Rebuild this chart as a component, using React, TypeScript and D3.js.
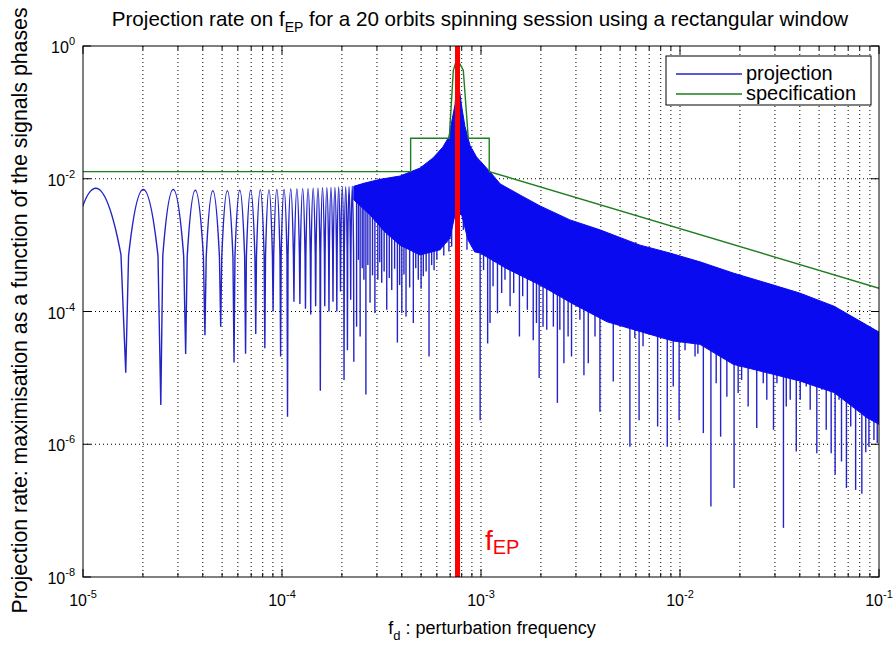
import React from "react";
import * as d3 from "d3";

const W = 896;
const H = 649;
const PL = 83, PR = 879, PT = 46, PB = 577;

const xDomain: [number, number] = [1e-5, 1e-1];
const yDomain: [number, number] = [1e-8, 1];
const xTickExps = [-5, -4, -3, -2, -1];
const yTickExps = [0, -2, -4, -6, -8];
const minorMult = [2, 3, 4, 5, 6, 7, 8, 9];

const fEP = 7.62e-4;

// specification (green)
const specF = [1e-5, 4.43e-4, 4.43e-4, 6.93e-4, 6.98e-4, 7.26e-4, 7.45e-4, 7.8e-4, 8.15e-4, 8.55e-4, 8.63e-4, 1.1e-3, 1.1e-3, 1e-1];
const specV = [0.0128, 0.0128, 0.0407, 0.0407, 0.06, 0.43, 0.55, 0.55, 0.43, 0.06, 0.0407, 0.0407, 0.0128, 2.24e-4];

// projection: resolved side lobes (nulls, null depths, lobe peaks)
const nullF = [8.2e-6, 1.64e-5, 2.46e-5, 3.28e-5, 4.1e-5, 4.92e-5, 5.74e-5, 6.56e-5, 7.38e-5, 8.2e-5, 9.02e-5, 9.84e-5, 1.066e-4, 1.148e-4, 1.23e-4, 1.312e-4, 1.394e-4, 1.476e-4, 1.558e-4, 1.64e-4, 1.722e-4, 1.804e-4, 1.886e-4, 1.968e-4, 2.05e-4, 2.132e-4, 2.214e-4, 2.296e-4];
const nullDepth = [1e-6, 1.2e-5, 3.9e-6, 2.3e-5, 4.4e-5, 5.9e-5, 1.7e-5, 2.3e-5, 4.6e-5, 2.8e-5, 1.0e-4, 2.1e-5, 2.6e-6, 1.4e-4, 1.3e-4, 1.1e-4, 9e-5, 1.2e-4, 6.4e-6, 1.2e-4, 1.0e-4, 1.4e-4, 1.0e-4, 2.0e-4, 9.3e-6, 2.6e-5, 1.5e-4, 1.75e-5];
const lobePeak = [7.2e-3, 6.9e-3, 6.9e-3, 6.7e-3, 6.6e-3, 6.6e-3, 6.7e-3, 6.7e-3, 6.8e-3, 6.8e-3, 6.9e-3, 6.9e-3, 7.0e-3, 7.0e-3, 7.1e-3, 7.1e-3, 7.2e-3, 7.2e-3, 7.3e-3, 7.3e-3, 7.4e-3, 7.4e-3, 7.5e-3, 7.5e-3, 7.6e-3, 7.6e-3, 7.7e-3];

// projection: dense band (upper envelope and lower edge of the solid area)
const bandTop: [number, number][] = [
  [2.296e-4, 7.7e-3], [2.6e-4, 8.6e-3], [3.11e-4, 9.8e-3], [3.92e-4, 1.1e-2], [4.94e-4, 1.45e-2],
  [5.74e-4, 2.06e-2], [6.43e-4, 3.0e-2], [6.9e-4, 4.3e-2], [7.2e-4, 8.5e-2], [7.4e-4, 0.129],
  [7.62e-4, 0.35], [8.0e-4, 0.122], [8.3e-4, 6.2e-2], [8.8e-4, 3.2e-2], [9.5e-4, 2.13e-2],
  [1.11e-3, 1.27e-2], [1.25e-3, 8.35e-3], [1.57e-3, 5.7e-3], [1.98e-3, 3.9e-3], [2.8e-3, 2.4e-3],
  [3.96e-3, 1.7e-3], [6.3e-3, 1.0e-3], [8.9e-3, 7.6e-4], [1.26e-2, 5.6e-4], [1.85e-2, 3.8e-4],
  [2.71e-2, 2.7e-4], [3.99e-2, 1.9e-4], [5.95e-2, 1.2e-4], [8.65e-2, 6.3e-5], [1e-1, 4.9e-5],
];
const bandBottom: [number, number][] = [
  [2.296e-4, 4.8e-3], [2.77e-4, 2.85e-3], [3.29e-4, 1.58e-3], [3.92e-4, 1.0e-3], [4.94e-4, 7.1e-4],
  [6.22e-4, 8.5e-4], [6.98e-4, 1.28e-3], [7.4e-4, 2.85e-3], [7.62e-4, 3.0e-3],
  [8.0e-4, 2.85e-3], [8.6e-4, 1.2e-3], [9.3e-4, 7.9e-4], [9.9e-4, 7.6e-4], [1.35e-3, 4.4e-4],
  [1.98e-3, 2.5e-4], [2.9e-3, 1.3e-4], [4.3e-3, 7.0e-5], [6.3e-3, 5.0e-5], [9.2e-3, 3.6e-5],
  [1.26e-2, 3.2e-5], [1.85e-2, 1.6e-5], [2.72e-2, 1.2e-5], [3.99e-2, 9.0e-6], [5.95e-2, 6.0e-6],
  [8.7e-2, 2.5e-6], [1e-1, 2.0e-6],
];

// projection: deep notches below the band
const spikes: [number, number][] = [
  [2.37e-4, 5.9e-5], [2.42e-4, 6.0e-4], [2.47e-4, 4.2e-5], [2.53e-4, 4.5e-4], [2.58e-4, 3.0e-4],
  [2.64e-4, 5.6e-6], [2.7e-4, 5.0e-4], [2.77e-4, 1.35e-4], [2.85e-4, 3.5e-4], [2.93e-4, 9.5e-5],
  [3.03e-4, 3.0e-4], [3.1e-4, 5.5e-4], [3.17e-4, 2.7e-4], [3.26e-4, 4.0e-4], [3.36e-4, 1.06e-4],
  [3.46e-4, 3.2e-4], [3.56e-4, 2.1e-4], [3.68e-4, 4.4e-4], [3.8e-4, 3.4e-5], [3.9e-4, 2.5e-4],
  [4.0e-4, 9.5e-5], [4.1e-4, 3.6e-4], [4.2e-4, 8.4e-5], [4.38e-4, 2.3e-4], [4.57e-4, 6.7e-5],
  [4.7e-4, 4.5e-4], [4.84e-4, 3.0e-4], [5.0e-4, 2.2e-4], [5.13e-4, 3.4e-4], [5.3e-4, 4.0e-4],
  [5.48e-4, 2.1e-5], [5.65e-4, 5.0e-4], [5.81e-4, 4.2e-4], [6.0e-4, 6.0e-4], [6.22e-4, 8.5e-4],
  [6.5e-4, 7.0e-4], [6.72e-4, 1.08e-3], [6.9e-4, 8.0e-4], [7.12e-4, 9.5e-4],
  [8.15e-4, 1.7e-3], [8.5e-4, 8.5e-4], [8.9e-4, 3.0e-3], [9.15e-4, 1.0e-3], [9.9e-4, 2.3e-6],
  [1.03e-3, 4.2e-4], [1.08e-3, 3.3e-5], [1.11e-3, 6.7e-5], [1.15e-3, 2.4e-4], [1.21e-3, 9.4e-5],
  [1.27e-3, 1.9e-4], [1.32e-3, 3.0e-4], [1.4e-3, 1.2e-4], [1.46e-3, 1.9e-4], [1.56e-3, 4.2e-5],
  [1.62e-3, 1.7e-4], [1.71e-3, 1.06e-4], [1.83e-3, 3.7e-5], [1.9e-3, 6.7e-5], [1.96e-3, 1.0e-5],
  [2.05e-3, 5.9e-5], [2.14e-3, 5.3e-5], [2.22e-3, 4.7e-4], [2.31e-3, 5.9e-5], [2.42e-3, 4.2e-6],
  [2.49e-3, 5.3e-5], [2.61e-3, 1.66e-5], [2.74e-3, 4.2e-5], [2.85e-3, 2.1e-5], [3.02e-3, 4.2e-4],
  [3.14e-3, 7.5e-5], [3.29e-3, 1.1e-5], [3.46e-3, 1.66e-5], [3.74e-3, 4.2e-5], [3.96e-3, 3.1e-6],
  [4.12e-3, 7.5e-5], [4.36e-3, 3.8e-4], [4.62e-3, 8.8e-6], [4.81e-3, 8.4e-5], [5.09e-3, 1.06e-4],
  [5.29e-3, 6.0e-5], [5.6e-3, 9.2e-7], [5.93e-3, 4.0e-5], [6.23e-3, 2.3e-6], [6.52e-3, 3.0e-5],
  [6.9e-3, 8.4e-5], [7.3e-3, 8.4e-5], [7.72e-3, 1.85e-6], [8.15e-3, 5.3e-5], [8.63e-3, 9.2e-7],
  [8.98e-3, 4.7e-4], [9.25e-3, 7.4e-6], [9.9e-3, 2.3e-6], [1.06e-2, 2.6e-5], [1.12e-2, 4.2e-5],
  [1.19e-2, 2.1e-5], [1.23e-2, 2.3e-5], [1.31e-2, 1.47e-6], [1.43e-2, 1.15e-7], [1.52e-2, 8.3e-6],
  [1.6e-2, 1.3e-6], [1.72e-2, 5.2e-6], [1.87e-2, 2.2e-7], [1.96e-2, 5.9e-6], [2.04e-2, 9.3e-6],
  [2.2e-2, 3.7e-6], [2.43e-2, 1.75e-6], [2.62e-2, 8.3e-6], [2.73e-2, 4.7e-6], [2.95e-2, 1.65e-6],
  [3.07e-2, 8.3e-6], [3.31e-2, 5.5e-8], [3.42e-2, 3.7e-6], [3.58e-2, 4.7e-6], [3.84e-2, 7.8e-7],
  [4.02e-2, 4.7e-6], [4.31e-2, 7.4e-6], [4.51e-2, 3.3e-6], [4.87e-2, 7.3e-7], [5.16e-2, 6.6e-6],
  [5.43e-2, 1.65e-6], [5.75e-2, 7.3e-7], [6.02e-2, 3.5e-7], [6.3e-2, 4.7e-6], [6.48e-2, 5.5e-7],
  [6.86e-2, 2.2e-7], [7.21e-2, 1.85e-6], [7.63e-2, 2.05e-7], [8.2e-2, 1.8e-7], [8.58e-2, 7.6e-7],
  [8.9e-2, 9.2e-7], [9.43e-2, 1.16e-6], [9.8e-2, 1.04e-6],
];

const FONT = "'Liberation Sans', Arial, Helvetica, sans-serif";
const BLUE_FILL = "#0a0af0";
const BLUE_LINE = "#2323c8";
const GREEN = "#1e7e1e";

export default function App() {
  const x = d3.scaleLog().domain(xDomain).range([PL, PR]);
  const y = d3.scaleLog().domain(yDomain).range([PB, PT]);

  const xGrid: number[] = [];
  const xMinor: number[] = [];
  xTickExps.forEach((e, i) => {
    if (i < xTickExps.length - 1) {
      minorMult.forEach((m) => {
        xGrid.push(m * Math.pow(10, e));
        xMinor.push(m * Math.pow(10, e));
      });
    }
    if (i > 0 && i < xTickExps.length - 1) xGrid.push(Math.pow(10, e));
  });
  const yGrid = [-2, -4, -6].map((e) => Math.pow(10, e));

  // side lobes path
  const lp = d3.path();
  for (let i = 0; i < lobePeak.length; i++) {
    const xa = x(nullF[i]);
    const xb = x(nullF[i + 1]);
    const w = xb - xa;
    const yp = y(lobePeak[i]);
    const ys = y(lobePeak[i] / 10);
    if (i === 0) lp.moveTo(xa, y(nullDepth[0]));
    lp.lineTo(xa + 0.08 * w, ys);
    lp.quadraticCurveTo(xa + 0.5 * w, 2 * yp - ys, xb - 0.08 * w, ys);
    lp.lineTo(xb, y(nullDepth[i + 1]));
  }

  const bandPts = [...bandTop, ...bandBottom.slice().reverse()];
  const bandPath =
    (d3.line<[number, number]>().x((d) => x(d[0])).y((d) => y(d[1]))(bandPts) || "") + "Z";

  const botPx = bandBottom.map((d) => [x(d[0]), y(d[1])]);
  const botAt = (px: number) => {
    for (let i = 0; i < botPx.length - 1; i++) {
      const a = botPx[i], b = botPx[i + 1];
      if (px >= a[0] && px <= b[0]) {
        const t = (px - a[0]) / (b[0] - a[0] || 1);
        return a[1] + t * (b[1] - a[1]);
      }
    }
    return botPx[botPx.length - 1][1];
  };

  const specLine = d3
    .line<number>()
    .x((_, i) => x(specF[i]))
    .y((_, i) => y(specV[i]))(specF) || "";

  return (
    <svg width={W} height={H} viewBox={`0 0 ${W} ${H}`} style={{ display: "block", position: "absolute", left: 0, top: 0, background: "#fff" }} fontFamily={FONT}>
      <defs>
        <clipPath id="plotclip">
          <rect x={PL} y={PT} width={PR - PL} height={PB - PT} />
        </clipPath>
      </defs>
      <rect x={0} y={0} width={W} height={H} fill="#fff" />

      <g stroke="#000" strokeWidth={1} strokeDasharray="1,3">
        {xGrid.map((f, i) => (
          <line key={"gx" + i} x1={x(f)} x2={x(f)} y1={PT} y2={PB} />
        ))}
        {yGrid.map((v, i) => (
          <line key={"gy" + i} x1={PL} x2={PR} y1={y(v)} y2={y(v)} />
        ))}
      </g>

      <g stroke="#000" strokeWidth={1}>
        {xTickExps.map((e, i) => {
          const px = x(Math.pow(10, e));
          return (
            <g key={"xt" + i}>
              <line x1={px} x2={px} y1={PB} y2={PB - 8} />
              <line x1={px} x2={px} y1={PT} y2={PT + 8} />
            </g>
          );
        })}
        {xMinor.map((f, i) => {
          const px = x(f);
          return (
            <g key={"xm" + i}>
              <line x1={px} x2={px} y1={PB} y2={PB - 4} />
              <line x1={px} x2={px} y1={PT} y2={PT + 4} />
            </g>
          );
        })}
        {yTickExps.map((e, i) => {
          const py = y(Math.pow(10, e));
          return (
            <g key={"yt" + i}>
              <line x1={PL} x2={PL + 8} y1={py} y2={py} />
              <line x1={PR} x2={PR - 8} y1={py} y2={py} />
            </g>
          );
        })}
      </g>

      <g clipPath="url(#plotclip)">
        <path d={lp.toString()} fill="none" stroke={BLUE_LINE} strokeWidth={1.4} />
        <g stroke={BLUE_LINE} strokeWidth={1.4}>
          {spikes.map((s, i) => {
            const px = x(s[0]);
            return <line key={"sp" + i} x1={px} x2={px} y1={botAt(px) - 4} y2={y(s[1])} />;
          })}
        </g>
        <path d={bandPath} fill={BLUE_FILL} stroke={BLUE_FILL} strokeWidth={1} />
        <path d={specLine} fill="none" stroke={GREEN} strokeWidth={1.4} />
      </g>

      <line x1={x(fEP)} x2={x(fEP)} y1={PT} y2={PB} stroke="#ff0000" strokeWidth={5} />

      <rect x={PL} y={PT} width={PR - PL} height={PB - PT} fill="none" stroke="#000" strokeWidth={1} />

      <g fontSize={16} fill="#000">
        {xTickExps.map((e, i) => (
          <text key={"xl" + i} x={x(Math.pow(10, e))} y={606} textAnchor="middle">
            10<tspan dy={-8} fontSize={11}>{e}</tspan>
          </text>
        ))}
        {yTickExps.map((e, i) => (
          <text key={"yl" + i} x={75} y={y(Math.pow(10, e)) + 7} textAnchor="end">
            10<tspan dy={-8} fontSize={11}>{e}</tspan>
          </text>
        ))}
      </g>

      <text x={480} y={26} textAnchor="middle" fontSize={20.6}>
        Projection rate on f<tspan dy={6} fontSize={14}>EP</tspan>
        <tspan dy={-6}> for a 20 orbits spinning session using a rectangular window</tspan>
      </text>
      <text x={492} y={634} textAnchor="middle" fontSize={18}>
        f<tspan dy={6} fontSize={13}>d</tspan>
        <tspan dy={-6}> : perturbation frequency</tspan>
      </text>
      <text transform={`translate(27,${(PT + PB) / 2 - 1}) rotate(-90)`} textAnchor="middle" fontSize={21.3}>
        Projection rate: maximisation as a function of the signals phases
      </text>

      <text x={485} y={550} fill="#ff0000" fontSize={28}>
        f<tspan dy={4} fontSize={20}>EP</tspan>
      </text>

      <g>
        <rect x={666} y={56} width={205} height={49} fill="#fff" stroke="#000" strokeWidth={1} />
        <line x1={676} x2={742} y1={74} y2={74} stroke={BLUE_LINE} strokeWidth={1.4} />
        <line x1={676} x2={742} y1={94} y2={94} stroke={GREEN} strokeWidth={1.4} />
        <text x={746} y={80} fontSize={20}>projection</text>
        <text x={746} y={100} fontSize={20}>specification</text>
      </g>
    </svg>
  );
}
